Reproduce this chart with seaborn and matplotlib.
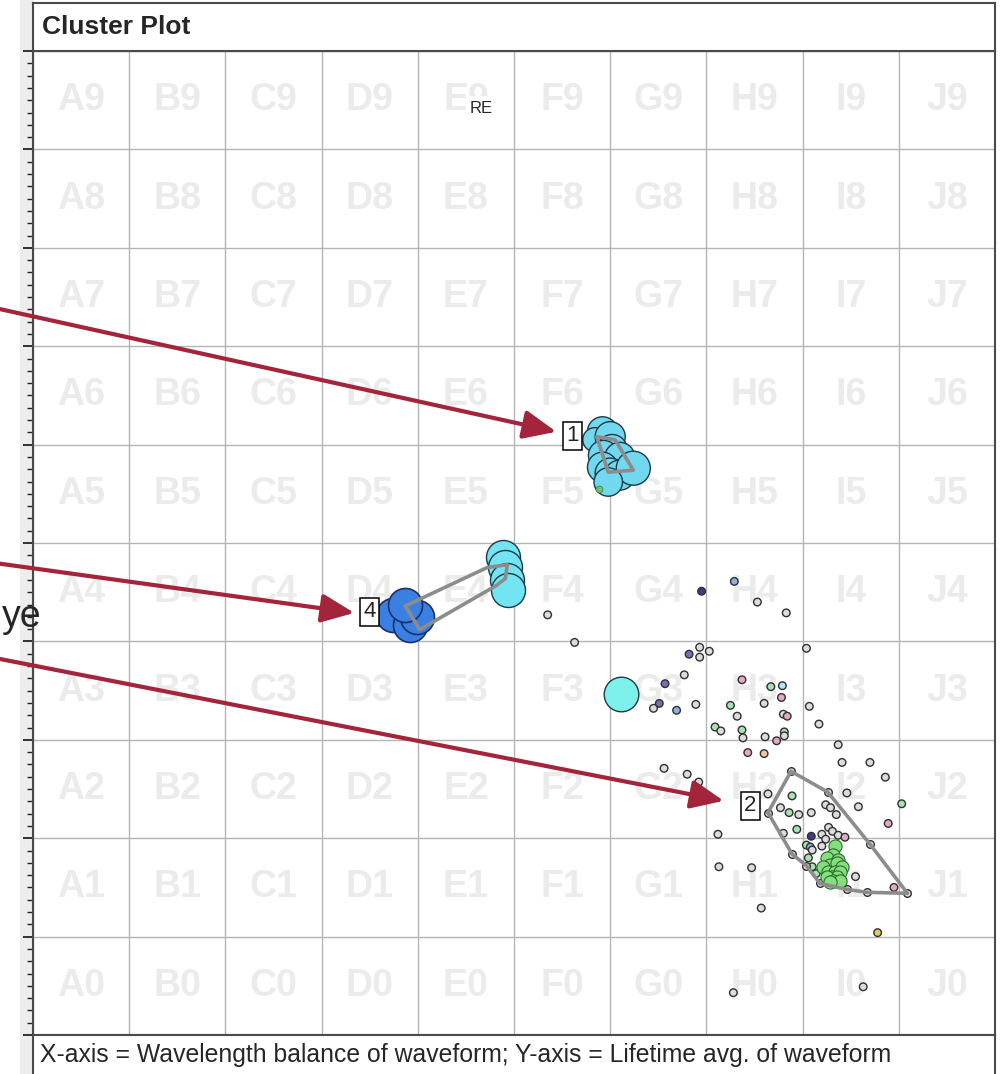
"""Cluster plot recreation: grid of cells with waveform clusters"""
import matplotlib
matplotlib.use("Agg")
import matplotlib.pyplot as plt
from matplotlib.patches import Rectangle
from matplotlib.ticker import MultipleLocator
import pandas as pd
import seaborn as sns

sns.set_style("white")
plt.rcParams['font.family'] = ['Liberation Sans', 'DejaVu Sans']

COLS = list("ABCDEFGHIJ")
ROWS = list(range(10))

# small scattered waveforms (x = wavelength balance, y = lifetime avg.)
SMALL_X = [5.35, 5.63, 6.95, 7.29, 7.53, 7.83, 6.93, 7.03, 6.93, 6.82,
           8.04, 6.77, 6.57, 6.51, 6.45, 6.69, 6.89, 7.37, 7.67, 7.79,
           7.78, 7.60, 7.25, 7.32, 7.80, 7.84, 8.07, 8.17, 7.09, 7.15,
           7.37, 7.38, 7.61, 7.81, 7.81, 7.73, 7.43, 7.60, 8.37, 6.56,
           6.80, 8.41, 8.70, 8.86, 6.92, 7.64, 7.89, 8.46, 8.58, 9.03,
           8.89, 7.77, 7.86, 7.96, 8.09, 8.24, 8.29, 8.35, 7.94, 7.80,
           8.27, 8.31, 8.37, 8.44, 8.09, 8.20, 8.24, 8.04, 8.08, 8.20,
           8.10, 7.12, 7.13, 7.47, 7.57, 8.55, 8.95, 8.78, 8.06, 8.10,
           8.14, 7.28, 8.63]
SMALL_Y = [4.27, 3.99, 4.51, 4.61, 4.40, 4.29, 3.94, 3.90, 3.84, 3.87,
           3.93, 3.66, 3.57, 3.37, 3.32, 3.30, 3.36, 3.61, 3.54, 3.55,
           3.43, 3.37, 3.35, 3.24, 3.26, 3.24, 3.34, 3.16, 3.13, 3.09,
           3.10, 3.02, 3.03, 3.08, 3.04, 2.99, 2.87, 2.86, 2.95, 2.71,
           2.65, 2.77, 2.77, 2.62, 2.57, 2.45, 2.43, 2.46, 2.32, 2.35,
           2.15, 2.31, 2.26, 2.24, 2.26, 2.34, 2.31, 2.24, 2.09, 2.05,
           2.11, 2.07, 2.03, 2.01, 2.02, 2.04, 1.99, 1.93, 1.91, 1.92,
           1.88, 2.04, 1.71, 1.70, 1.29, 1.61, 1.50, 1.04, 1.80, 1.71,
           1.64, 0.43, 0.49]
SMALL_KIND = ['gray', 'gray', 'navy', 'blue', 'gray', 'gray', 'gray', 'gray', 'gray', 'purple',
              'gray', 'gray', 'purple', 'purple', 'gray', 'blue', 'gray', 'pink', 'green', 'lightblue',
              'pink', 'gray', 'green', 'gray', 'gray', 'pink', 'gray', 'gray', 'green', 'gray',
              'green', 'gray', 'gray', 'green', 'gray', 'pink', 'pink', 'orange', 'gray', 'gray',
              'gray', 'gray', 'gray', 'gray', 'gray', 'gray', 'green', 'gray', 'gray', 'green',
              'pink', 'gray', 'green', 'gray', 'gray', 'gray', 'gray', 'gray', 'green', 'gray',
              'gray', 'gray', 'gray', 'pink', 'navy', 'gray', 'gray', 'green', 'blue', 'gray',
              'gray', 'gray', 'gray', 'gray', 'gray', 'gray', 'pink', 'olive', 'green', 'green',
              'green', 'gray', 'gray']
SMALL_PALETTE = {'gray': '#dcdcdc', 'pink': '#e6a6c6', 'green': '#a8e2b4',
                 'blue': '#8eaee2', 'navy': '#3c3c8c', 'purple': '#7470b4',
                 'orange': '#f2c4a4', 'olive': '#dccc64', 'lightblue': '#b4e4f4'}

# cluster 2 core (green)
GREEN_X = [8.34, 8.32, 8.25, 8.37, 8.29, 8.36, 8.41, 8.21, 8.26, 8.34,
           8.39, 8.31, 8.36, 8.25, 8.32, 8.39, 8.29]
GREEN_Y = [1.92, 1.83, 1.80, 1.78, 1.73, 1.75, 1.71, 1.71, 1.66, 1.66,
           1.66, 1.61, 1.61, 1.61, 1.56, 1.56, 1.55]

# cluster 1 (light blue)
C1_X = [5.92, 5.84, 6.00, 6.02, 5.93, 6.10, 5.92, 6.00, 6.10, 6.24, 5.98]
C1_Y = [6.13, 6.05, 6.08, 5.95, 5.89, 5.87, 5.77, 5.71, 5.69, 5.76, 5.62]
C1_SIZE = [470, 300, 470, 470, 470, 470, 470, 470, 470, 600, 420]

# cluster 4 (blue) and its satellite group in E4 (cyan)
C4_X = [3.82, 3.74, 3.92, 3.99, 3.87]
C4_Y = [4.29, 4.27, 4.17, 4.25, 4.37]
E4_X = [4.89, 4.91, 4.93, 4.94]
E4_Y = [4.86, 4.76, 4.62, 4.52]
SOLO_X = [6.11]
SOLO_Y = [3.47]

# convex hulls
HULL1_X = [5.86, 6.05, 6.24, 5.98, 5.86]
HULL1_Y = [6.08, 6.05, 5.74, 5.72, 6.08]
HULL4_X = [3.87, 4.72, 4.93, 4.91, 4.82, 4.02, 3.87]
HULL4_Y = [4.36, 4.75, 4.78, 4.64, 4.57, 4.12, 4.36]
HULL2_X = [7.64, 7.88, 8.26, 8.70, 9.09, 8.67, 8.46, 8.18, 8.04, 7.89, 7.64]
HULL2_Y = [2.26, 2.68, 2.47, 1.94, 1.44, 1.45, 1.48, 1.54, 1.72, 1.84, 2.26]

# cluster labels: id, x, y, arrow start (figure pixels, from the left edge)
LABELS = ['1', '4', '2']
LABEL_X = [5.605, 3.50, 7.455]
LABEL_Y = [6.09, 4.30, 2.33]
ARROW_TIP_X = [5.44, 3.34, 7.18]
ARROW_TIP_Y = [6.13, 4.29, 2.38]
ARROW_START_Y = [766, 511, 416]

W, H = 1000, 1074
ARROW_RED = '#a3243b'


def box(x0, y0, x1, y1):
    """Axes rectangle from pixel coords (top-left origin)"""
    return [x0 / W, 1 - y1 / H, (x1 - x0) / W, (y1 - y0) / H]


def frame(ax):
    for s in ax.spines.values():
        s.set_color('#4a4a4a')
        s.set_linewidth(1.5)


def plot_cluster():
    fig = plt.figure(figsize=(W / 100, H / 100), dpi=100)

    # light ruler strip at the left edge
    fig.patches.append(Rectangle((20 / W, 0), 13 / W, 1, transform=fig.transFigure,
                                 color='#ededed', zorder=-1))

    ax = fig.add_axes(box(33, 51, 995, 1035))
    ax.set_xlim(0, 10)
    ax.set_ylim(0, 10)
    ax.set_xticks(range(11))
    ax.set_yticks(range(11))
    ax.yaxis.set_minor_locator(MultipleLocator(0.125))
    ax.tick_params(axis='x', length=0, labelbottom=False)
    ax.tick_params(axis='y', which='major', length=7, width=1.3, color='#222222',
                   labelleft=False, left=True)
    ax.tick_params(axis='y', which='minor', length=4, width=1, color='#222222', left=True)
    ax.grid(True, color='#b4b4b4', lw=1)
    ax.set_axisbelow(True)
    frame(ax)

    for i, c in enumerate(COLS):
        for r in ROWS:
            ax.text(i + 0.5, r + 0.5, f"{c}{r}", ha='center', va='center',
                    fontsize=27, fontweight='bold', color='#ebebeb', zorder=0.5)
    ax.text(4.66, 9.42, "RE", ha='center', va='center', fontsize=12,
            bbox=dict(boxstyle='square,pad=0.25', fc='white', ec='none'), zorder=1)

    small = pd.DataFrame({'x': SMALL_X, 'y': SMALL_Y, 'kind': SMALL_KIND})
    sns.scatterplot(data=small, x='x', y='y', hue='kind', palette=SMALL_PALETTE,
                    s=30, edgecolor='#303030', linewidth=1, legend=False, ax=ax, zorder=3)
    # hull vertex waveforms
    hull_pts = pd.DataFrame({'x': HULL2_X[:-1], 'y': HULL2_Y[:-1]})
    sns.scatterplot(data=hull_pts, x='x', y='y', color='#dcdcdc', s=30,
                    edgecolor='#303030', linewidth=1, ax=ax, zorder=3)

    sns.scatterplot(x=GREEN_X, y=GREEN_Y, color='#84e07c', s=90,
                    edgecolor='#2f6a2f', linewidth=0.8, ax=ax, zorder=4)
    sns.scatterplot(x=C1_X, y=C1_Y, size=C1_SIZE, sizes=(300, 600), color='#72d8ee',
                    edgecolor='#1a3a4a', linewidth=1, legend=False, ax=ax, zorder=4)
    sns.scatterplot(x=[5.88], y=[5.55], color='#70c070', s=25, edgecolor='#2f6a2f',
                    ax=ax, zorder=4)
    sns.scatterplot(x=E4_X, y=E4_Y, color='#72e4f2', s=600, edgecolor='#1a3a4a',
                    linewidth=1, ax=ax, zorder=4)
    sns.scatterplot(x=C4_X, y=C4_Y, color='#3a80e2', s=600, edgecolor='#1c2f6a',
                    linewidth=1.2, ax=ax, zorder=4)
    sns.scatterplot(x=SOLO_X, y=SOLO_Y, color='#7ef0ea', s=620, edgecolor='#1a3a4a',
                    linewidth=1, ax=ax, zorder=4)

    for hx, hy in [(HULL1_X, HULL1_Y), (HULL4_X, HULL4_Y), (HULL2_X, HULL2_Y)]:
        ax.plot(hx, hy, color='#8c8c8c', lw=2.6, zorder=5, solid_joinstyle='round')

    for lab, lx, ly, tx, ty, sy in zip(LABELS, LABEL_X, LABEL_Y,
                                       ARROW_TIP_X, ARROW_TIP_Y, ARROW_START_Y):
        ax.text(lx, ly, lab, ha='center', va='center', fontsize=16, zorder=7,
                bbox=dict(boxstyle='square,pad=0.15', fc='white', ec='black', lw=1.1))
        ax.annotate('', xy=(tx, ty), xycoords='data', xytext=(-5, sy),
                    textcoords='figure pixels', annotation_clip=False, zorder=8,
                    arrowprops=dict(arrowstyle='-|>,head_length=0.8,head_width=0.35',
                                    color=ARROW_RED, lw=3, mutation_scale=25,
                                    shrinkA=0, shrinkB=0))

    # title bar
    tax = fig.add_axes(box(33, 3, 995, 51))
    tax.set_xticks([])
    tax.set_yticks([])
    frame(tax)
    tax.text(9 / 962, 0.5, "Cluster Plot", transform=tax.transAxes, ha='left',
             va='center', fontsize=19, fontweight='bold')

    # caption bar
    cax = fig.add_axes(box(33, 1035, 995, 1090))
    cax.set_xticks([])
    cax.set_yticks([])
    frame(cax)
    cax.text(7 / 962, 1 - 20 / 55, "X-axis = Wavelength balance of waveform; "
             "Y-axis = Lifetime avg. of waveform", transform=cax.transAxes,
             ha='left', va='center', fontsize=17.8)

    fig.text(42 / W, 1 - 627 / H, "ye", ha='right', va='baseline', fontsize=27)

    fig.savefig("out.png", dpi=100)


if __name__ == "__main__":
    plot_cluster()
